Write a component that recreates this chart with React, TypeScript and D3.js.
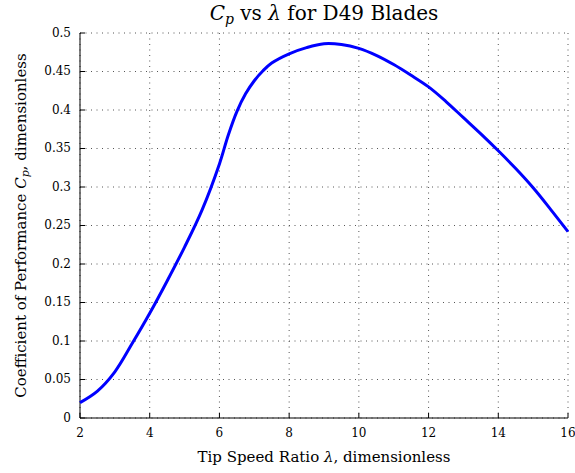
import { scaleLinear, line, curveCatmullRom } from 'd3';

const width = 575;
const height = 473;
const margin = { top: 33, right: 7, bottom: 55, left: 80 };

// tip speed ratio and power coefficient
const lambda = [2, 2.5, 3, 3.5, 4, 4.5, 5, 5.5, 6, 6.25, 6.5, 6.75, 7, 7.25, 7.5, 8, 8.5, 9, 9.5, 10, 10.5, 11, 11.5, 12, 12.5, 13, 13.5, 14, 14.5, 15, 15.5, 16];
const cp = [0.020, 0.035, 0.060, 0.097, 0.136, 0.178, 0.222, 0.270, 0.330, 0.367, 0.398, 0.421, 0.438, 0.451, 0.461, 0.473, 0.481, 0.486, 0.485, 0.480, 0.471, 0.459, 0.445, 0.430, 0.411, 0.390, 0.369, 0.347, 0.324, 0.299, 0.271, 0.242];

const xTicks = [2, 4, 6, 8, 10, 12, 14, 16];
const yTicks = [0, 0.05, 0.1, 0.15, 0.2, 0.25, 0.3, 0.35, 0.4, 0.45, 0.5];
const yTickLabels = ['0', '0.05', '0.1', '0.15', '0.2', '0.25', '0.3', '0.35', '0.4', '0.45', '0.5'];

const font = "'DejaVu Serif', 'Liberation Serif', serif";

function App() {
  const innerWidth = width - margin.left - margin.right;
  const innerHeight = height - margin.top - margin.bottom;

  const xScale = scaleLinear().domain([2, 16]).range([0, innerWidth]);
  const yScale = scaleLinear().domain([0, 0.5]).range([innerHeight, 0]);

  const pts = lambda.map((l, i) => [l, cp[i]] as [number, number]);
  const path = line<[number, number]>()
    .x(d => xScale(d[0]))
    .y(d => yScale(d[1]))
    .curve(curveCatmullRom.alpha(0.5))(pts);

  return (
    <svg width={width} height={height} style={{ position: 'absolute', left: 0, top: 0, background: '#fff', fontFamily: font }}>
      <text x={margin.left + innerWidth / 2} y={20} textAnchor='middle' fontSize={20}>
        <tspan fontStyle='italic'>C</tspan>
        <tspan fontStyle='italic' fontSize={14} dy={4}>p</tspan>
        <tspan dy={-4}> vs </tspan>
        <tspan fontStyle='italic'>λ</tspan>
        <tspan> for D49 Blades</tspan>
      </text>
      <g transform={`translate(${margin.left}, ${margin.top})`}>
        {xTicks.map(t => (
          <line key={'gx' + t} x1={xScale(t)} x2={xScale(t)} y1={0} y2={innerHeight}
            stroke='#555' strokeWidth={1} strokeDasharray='1,4.5' />
        ))}
        {yTicks.map(t => (
          <line key={'gy' + t} x1={0} x2={innerWidth} y1={yScale(t)} y2={yScale(t)}
            stroke='#555' strokeWidth={1} strokeDasharray='1,4.5' />
        ))}
        {xTicks.map(t => (
          <g key={'tx' + t} transform={`translate(${xScale(t)}, 0)`}>
            <line y1={innerHeight} y2={innerHeight - 5} stroke='black' />
            <text y={innerHeight + 19} textAnchor='middle' fontSize={12}>{t}</text>
          </g>
        ))}
        {yTicks.map((t, i) => (
          <g key={'ty' + t} transform={`translate(0, ${yScale(t)})`}>
            <line x1={0} x2={5} stroke='black' />
            <text x={-9} dy='.32em' textAnchor='end' fontSize={12}>{yTickLabels[i]}</text>
          </g>
        ))}
        <line x1={0} x2={0} y1={0} y2={innerHeight} stroke='black' />
        <line x1={0} x2={innerWidth} y1={innerHeight} y2={innerHeight} stroke='black' />
        <path d={path || ''} fill='none' stroke='#0000ff' strokeWidth={3} strokeLinejoin='round' />
      </g>
      <text x={margin.left + innerWidth / 2} y={462} textAnchor='middle' fontSize={15}>
        Tip Speed Ratio <tspan fontStyle='italic'>λ</tspan>, dimensionless
      </text>
      <text transform={`translate(26, ${margin.top + innerHeight / 2}) rotate(-90)`} textAnchor='middle' fontSize={15}>
        Coefficient of Performance <tspan fontStyle='italic'>C</tspan>
        <tspan fontStyle='italic' fontSize={11} dy={3}>p</tspan>
        <tspan dy={-3}>, dimensionless</tspan>
      </text>
    </svg>
  );
}

export default App;
